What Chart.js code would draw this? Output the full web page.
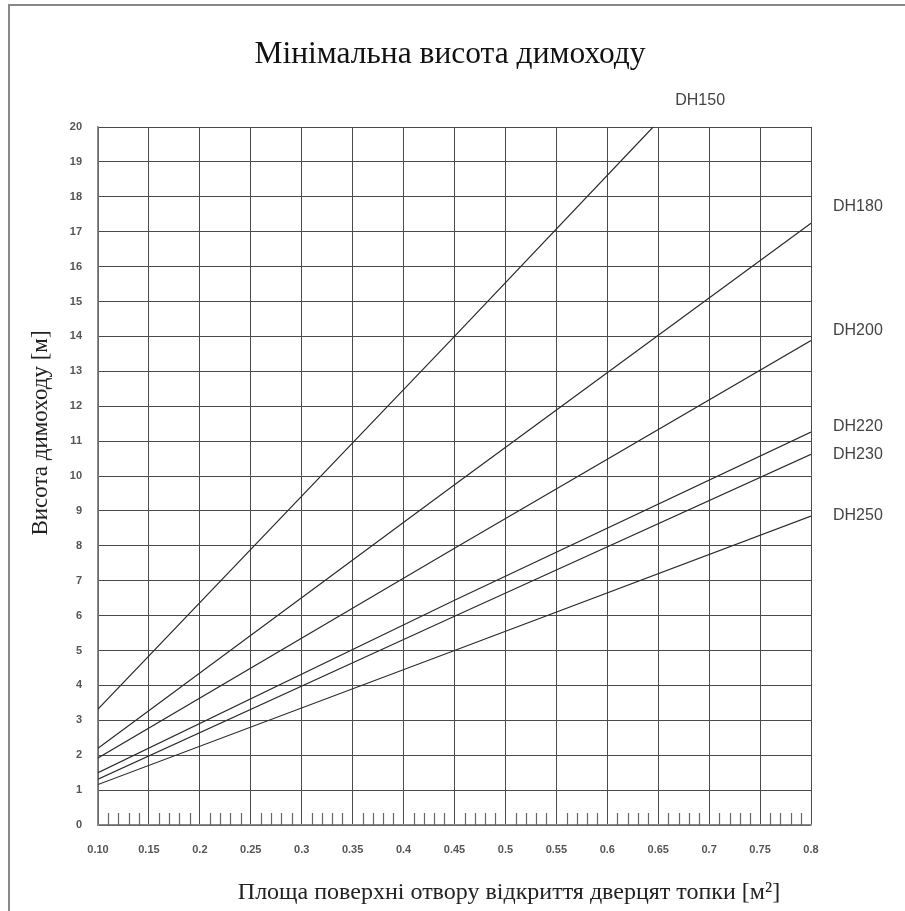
<!DOCTYPE html>
<html>
<head>
<meta charset="utf-8">
<script src="https://cdn.jsdelivr.net/npm/chart.js@4/dist/chart.umd.min.js"></script>
<style>
  html, body { margin: 0; padding: 0; background: #fff; }
  #box { width: 905px; height: 911px; position: relative; }
</style>
</head>
<body>
<div id="box"><canvas id="chart"></canvas></div>
<script>
// DATOS
var seriesNames = ['DH150', 'DH180', 'DH200', 'DH220', 'DH230', 'DH250'];
var xPoints = [0.10, 0.45, 0.80];
var dh150X = [0.10, 0.45, 0.645];
var dh150 = [3.32, 14.0, 20.0];
var dh180 = [2.20, 9.75, 17.24];
var dh200 = [1.92, 7.93, 13.88];
var dh220 = [1.50, 6.44, 11.26];
var dh230 = [1.31, 5.98, 10.62];
var dh250 = [1.16, 5.00, 8.85];

var xTickValues = [0.10, 0.15, 0.20, 0.25, 0.30, 0.35, 0.40, 0.45, 0.50, 0.55, 0.60, 0.65, 0.70, 0.75, 0.80];
var xTickLabels = ['0.10', '0.15', '0.2', '0.25', '0.3', '0.35', '0.4', '0.45', '0.5', '0.55', '0.6', '0.65', '0.7', '0.75', '0.8'];
var yTickValues = [0, 1, 2, 3, 4, 5, 6, 7, 8, 9, 10, 11, 12, 13, 14, 15, 16, 17, 18, 19, 20];
var yTickLabels = ['0', '1', '2', '3', '4', '5', '6', '7', '8', '9', '10', '11', '12', '13', '14', '15', '16', '17', '18', '19', '20'];

var titulo = 'Мінімальна висота димоходу';
var tituloX = 'Площа поверхні отвору відкриття дверцят топки [м²]';
var tituloY = 'Висота димоходу [м]';

// desplazamiento de cada etiqueta respecto al final de su linea
var labelOffsets = [[47, -26], [22, -17], [22, -10], [22, -5], [22, 0], [22, -1]];

function puntos(xs, ys) {
    return xs.map(function (x, i) { return { x: x, y: ys[i] }; });
}

var valores = [puntos(dh150X, dh150), puntos(xPoints, dh180), puntos(xPoints, dh200),
    puntos(xPoints, dh220), puntos(xPoints, dh230), puntos(xPoints, dh250)];

var datasets = seriesNames.map(function (nombre, i) {
    return {
        label: nombre,
        data: valores[i],
        borderColor: '#2b2b2b',
        borderWidth: 1.2,
        pointRadius: 0,
        tension: 0,
        fill: false
    };
});

//PLUGIN: textos, marco y rayitas menores
var extras = {
    id: 'extras',
    beforeDatasetsDraw: function (chart) {
        var ctx = chart.ctx;
        var xs = chart.scales.x;
        var area = chart.chartArea;
        ctx.save();
        ctx.strokeStyle = '#666';
        ctx.lineWidth = 1.2;
        for (var i = 11; i < 80; i++) {
            if (i % 5 === 0) continue;
            var px = Math.round(xs.getPixelForValue(i / 100)) + 0.5;
            ctx.beginPath();
            ctx.moveTo(px, area.bottom);
            ctx.lineTo(px, area.bottom - 12);
            ctx.stroke();
        }
        ctx.restore();
    },
    afterDraw: function (chart) {
        var ctx = chart.ctx;
        ctx.save();
        // marco
        ctx.strokeStyle = '#888';
        ctx.lineWidth = 2;
        ctx.beginPath();
        ctx.moveTo(9, 911);
        ctx.lineTo(9, 5);
        ctx.lineTo(905, 5);
        ctx.stroke();

        // titulo
        ctx.fillStyle = '#111';
        ctx.textAlign = 'center';
        ctx.textBaseline = 'alphabetic';
        ctx.font = '31.5px "Liberation Serif"';
        ctx.fillText(titulo, 450, 63);

        // titulo eje x
        ctx.fillStyle = '#222';
        ctx.textAlign = 'center';
        ctx.font = '24px "Liberation Serif"';
        ctx.fillText(tituloX, 509, 899);

        // titulo eje y
        ctx.save();
        ctx.translate(41, 433);
        ctx.rotate(-Math.PI / 2);
        ctx.textAlign = 'center';
        ctx.textBaseline = 'middle';
        ctx.font = '23px "Liberation Serif"';
        ctx.fillText(tituloY, 0, 0);
        ctx.restore();

        // etiquetas de las series
        ctx.fillStyle = '#444';
        ctx.font = '16px "Liberation Sans"';
        ctx.textBaseline = 'middle';
        chart.data.datasets.forEach(function (ds, i) {
            var meta = chart.getDatasetMeta(i);
            var last = meta.data[meta.data.length - 1];
            ctx.textAlign = i === 0 ? 'center' : 'left';
            ctx.fillText(ds.label, last.x + labelOffsets[i][0], last.y + labelOffsets[i][1]);
        });
        ctx.restore();
    }
};

var fuenteTicks = { family: '"Liberation Sans"', size: 11, weight: 'bold' };

var ctx = document.getElementById('chart');
var miGrafica = new Chart(ctx, {
    type: 'line',
    data: { datasets: datasets },
    plugins: [extras],
    options: {
        responsive: true,
        maintainAspectRatio: false,
        animation: false,
        layout: { padding: { left: 58, right: 94, top: 127, bottom: 56 } },
        plugins: {
            legend: { display: false },
            tooltip: { enabled: false },
            title: { display: false }
        },
        scales: {
            x: {
                type: 'linear',
                min: 0.10,
                max: 0.80,
                afterBuildTicks: function (s) {
                    s.ticks = xTickValues.map(function (v) { return { value: v }; });
                },
                afterFit: function (s) {
                    s.height = 30;
                    s.paddingLeft = 0;
                    s.paddingRight = 0;
                },
                ticks: {
                    autoSkip: false,
                    maxRotation: 0,
                    padding: 18,
                    color: '#555',
                    font: fuenteTicks,
                    callback: function (v, i) { return xTickLabels[i]; }
                },
                grid: { color: '#4a4a4a', lineWidth: 1, drawTicks: false },
                border: { color: '#888', width: 1.5 }
            },
            y: {
                type: 'linear',
                min: 0,
                max: 20,
                afterBuildTicks: function (s) {
                    s.ticks = yTickValues.map(function (v) { return { value: v }; });
                },
                afterFit: function (s) {
                    s.width = 40;
                    s.paddingTop = 0;
                    s.paddingBottom = 0;
                },
                ticks: {
                    autoSkip: false,
                    padding: 16,
                    color: '#555',
                    font: fuenteTicks,
                    callback: function (v, i) { return yTickLabels[i]; }
                },
                grid: { color: '#4a4a4a', lineWidth: 1, drawTicks: false },
                border: { color: '#888', width: 1.5 }
            }
        }
    }
});
</script>
</body>
</html>
